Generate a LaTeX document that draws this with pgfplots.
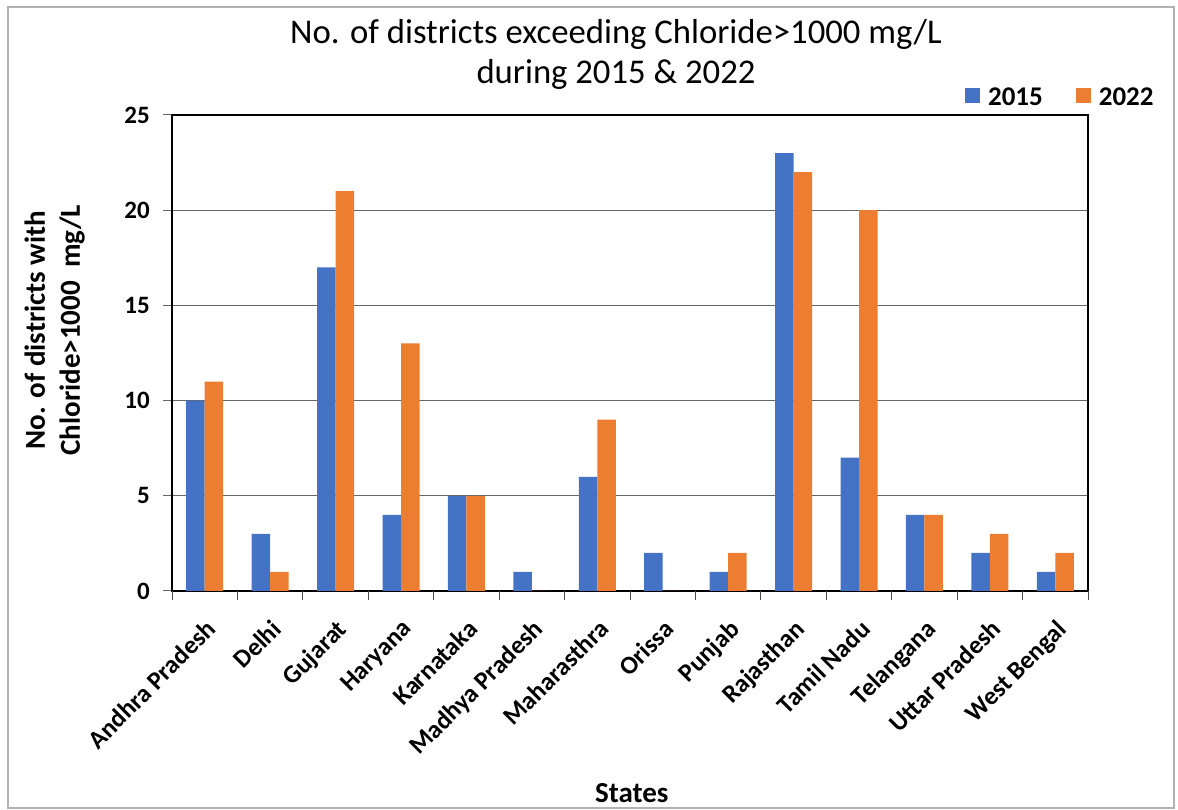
\documentclass[border=0pt]{standalone}
\usepackage{pgfplots}
\pgfplotsset{compat=1.18}
\usepackage{fontspec}
\setmainfont{Carlito}
\definecolor{cblue}{HTML}{4472C4}
\definecolor{corange}{HTML}{ED7D31}
\begin{document}
\begin{tikzpicture}[x=1pt,y=1pt]
\path[use as bounding box] (0,0) rectangle (1178,810);
\draw[black!30, line width=1.2pt] (8,803) rectangle (1174,2);
\node[font=\fontsize{34.7}{40}\selectfont, align=center] at (616,756) {No. of districts exceeding Chloride>1000~mg/L\\during 2015 \& 2022};
\begin{axis}[
  at={(172pt,219pt)}, anchor=south west, scale only axis,
  width=916pt, height=476pt,
  ybar=0pt, bar width=18.5pt,
  xmin=-0.5, xmax=13.5, ymin=0, ymax=25,
  xtick={0,...,13},
  xticklabels={Andhra Pradesh,Delhi,Gujarat,Haryana,Karnataka,Madhya Pradesh,Maharasthra,Orissa,Punjab,Rajasthan,Tamil Nadu,Telangana,Uttar Pradesh,West Bengal},
  major x tick style={draw=none},
  extra x ticks={-0.5,0.5,...,13.5},
  extra x tick labels={},
  extra x tick style={major x tick style={draw=black!70, line width=1pt}},
  xtick pos=bottom, ytick pos=left,
  tick align=outside, major tick length=9pt,
  ytick={0,5,...,25},
  ymajorgrids, grid style={black!60, line width=1pt},
  major y tick style={draw=black!60, line width=1pt},
  axis line style={black, line width=2.4pt},
  /pgf/number format/assume math mode=true,
  yticklabel style={font=\bfseries\fontsize{25}{25}\selectfont, inner sep=0pt},
  yticklabel shift=13pt,
  xticklabel style={font=\bfseries\fontsize{25.5}{25.5}\selectfont, inner sep=0pt, anchor=north east, rotate=45},
  xticklabel shift=18pt,
  ylabel={No. of districts with\\Chloride>1000~~mg/L},
  ylabel style={font=\bfseries\fontsize{29}{35}\selectfont, align=center, at={(axis description cs:-0.128,0.548)}, anchor=center},
  xlabel={States},
  xlabel style={font=\bfseries\fontsize{29}{29}\selectfont, at={(axis description cs:0.502,-0.424)}, anchor=center},
  legend style={at={(axis description cs:1.074,1.038)}, anchor=east, draw=none, fill=none,
    legend columns=2, font=\bfseries\fontsize{27}{27}\selectfont, inner sep=0pt,
    /tikz/every even column/.append style={column sep=31pt}},
  legend image code/.code={\fill[#1] (0pt,-6pt) rectangle (15pt,9pt); \path (21pt,0pt);},
]
\addplot[fill=cblue, draw=none] coordinates {(0,10) (1,3) (2,17) (3,4) (4,5) (5,1) (6,6) (7,2) (8,1) (9,23) (10,7) (11,4) (12,2) (13,1)};
\addplot[fill=corange, draw=none] coordinates {(0,11) (1,1) (2,21) (3,13) (4,5) (5,0) (6,9) (7,0) (8,2) (9,22) (10,20) (11,4) (12,3) (13,2)};
\legend{2015,2022}
\end{axis}
\end{tikzpicture}
\end{document}
